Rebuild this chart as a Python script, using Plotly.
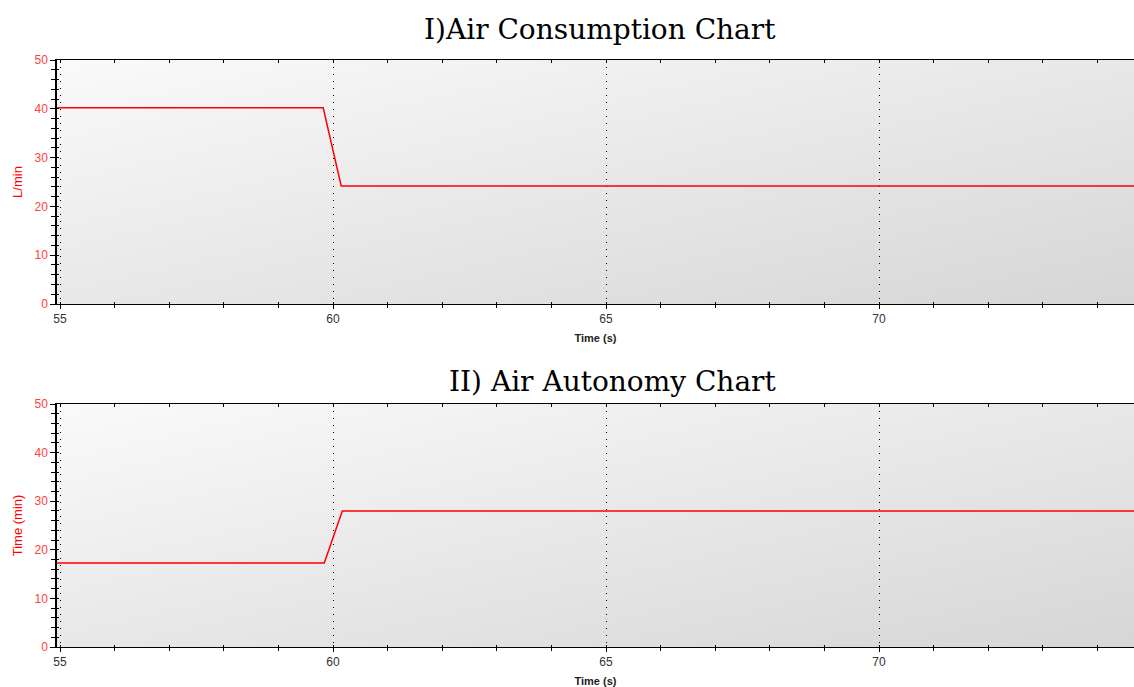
import base64
import plotly.graph_objects as go

# ---- data ----
cons_time = [54.95, 59.82, 60.15, 74.7]
cons_lpm = [40.2, 40.2, 24.2, 24.2]
auto_time = [54.95, 59.84, 60.17, 74.7]
auto_min = [17.3, 17.3, 28.0, 28.0]
x_ticks = [55, 60, 65, 70]
y_ticks = [0, 10, 20, 30, 40, 50]
titles = ["I)Air Consumption Chart", "II) Air Autonomy Chart"]
y_titles = ["L/min", "Time (min)"]
x_title = "Time (s)"

W, H = 1134, 687
ML = 57
RED = "#ff0000"
TICKRED = "#ff4040"

svg = ('<svg xmlns="http://www.w3.org/2000/svg" width="400" height="100" preserveAspectRatio="none">'
       '<defs><linearGradient id="g" x1="0" y1="0" x2="1" y2="1">'
       '<stop offset="0" stop-color="#fafafa"/><stop offset="1" stop-color="#d6d6d6"/>'
       '</linearGradient></defs><rect width="400" height="100" fill="url(#g)"/></svg>')
bg_uri = "data:image/svg+xml;base64," + base64.b64encode(svg.encode()).decode()

fig = go.Figure()
fig.add_trace(go.Scatter(x=cons_time, y=cons_lpm, mode="lines",
                         line=dict(color=RED, width=1.5), xaxis="x", yaxis="y", showlegend=False,
                         hoverinfo="skip"))
fig.add_trace(go.Scatter(x=auto_time, y=auto_min, mode="lines",
                         line=dict(color=RED, width=1.5), xaxis="x2", yaxis="y2", showlegend=False,
                         hoverinfo="skip"))

xr = [54.945, 74.67]
yr = [0, 50]
yd_top = [(H - 304) / H, (H - 60) / H]
yd_bot = [(H - 647) / H, (H - 404) / H]

def xaxis(anchor):
    return dict(domain=[0, 1], range=xr, anchor=anchor, tickvals=x_ticks,
                ticks="outside", ticklen=4, tickcolor="black", tickwidth=1,
                minor=dict(dtick=1, tick0=55, ticks="outside", ticklen=3, tickcolor="black"),
                showline=True, linecolor="black", linewidth=1, mirror=True,
                showgrid=True, gridcolor="black", griddash="1px,6px", gridwidth=1,
                zeroline=False,
                tickfont=dict(family="Liberation Sans", size=12, color="#333333"),
                title=dict(text="<b>" + x_title + "</b>", standoff=8,
                           font=dict(family="Liberation Sans", size=11, color="#222222")))

def yaxis(domain, anchor, title):
    return dict(domain=domain, range=yr, anchor=anchor, tickvals=y_ticks,
                ticks="outside", ticklen=5, tickcolor="black", tickwidth=1,
                minor=dict(dtick=2, tick0=0, ticks="outside", ticklen=4, tickcolor="black"),
                showline=True, linecolor="black", linewidth=1.5,
                showgrid=False, zeroline=False,
                tickfont=dict(family="Liberation Sans", size=12, color=TICKRED),
                title=dict(text=title, standoff=9,
                           font=dict(family="Liberation Sans", size=13, color=RED)))

def x_inner(over, anchor, side, ln):
    return dict(overlaying=over, anchor=anchor, side=side, range=xr, dtick=1, tick0=55,
                ticks="inside", ticklen=ln, tickcolor="black", showticklabels=False,
                showline=False, showgrid=False, zeroline=False)

def y_inner(over, anchor):
    return dict(overlaying=over, anchor=anchor, side="left", range=yr, dtick=2, tick0=0,
                ticks="inside", ticklen=2, tickcolor="black", showticklabels=False,
                showline=False, showgrid=False, zeroline=False)

# empty traces to activate the inner-tick overlay axes
for xa, ya in [("x3", "y"), ("x4", "y"), ("x", "y3"), ("x5", "y2"), ("x6", "y2"), ("x2", "y4")]:
    fig.add_trace(go.Scatter(x=[], y=[], xaxis=xa, yaxis=ya, showlegend=False, hoverinfo="skip"))

fig.update_layout(
    width=W, height=H,
    margin=dict(l=ML, r=0, t=0, b=0, autoexpand=False),
    paper_bgcolor="white", plot_bgcolor="rgba(0,0,0,0)",
    xaxis=xaxis("y"), yaxis=yaxis(yd_top, "x", y_titles[0]),
    xaxis2=xaxis("y2"), yaxis2=yaxis(yd_bot, "x2", y_titles[1]),
    xaxis3=x_inner("x", "y", "bottom", 2), xaxis4=x_inner("x", "y", "top", 3),
    yaxis3=y_inner("y", "x"),
    xaxis5=x_inner("x2", "y2", "bottom", 2), xaxis6=x_inner("x2", "y2", "top", 3),
    yaxis4=y_inner("y2", "x2"),
    images=[
        dict(source=bg_uri, xref="x domain", yref="y domain", x=0, y=1, sizex=1, sizey=1,
             sizing="stretch", layer="below", xanchor="left", yanchor="top"),
        dict(source=bg_uri, xref="x2 domain", yref="y2 domain", x=0, y=1, sizex=1, sizey=1,
             sizing="stretch", layer="below", xanchor="left", yanchor="top"),
    ],
    annotations=[
        dict(text=titles[0], x=(600 - ML) / (W - ML), y=1 - 30 / H, xref="paper", yref="paper",
             showarrow=False, xanchor="center", yanchor="middle",
             font=dict(family="DejaVu Serif", size=28, color="black")),
        dict(text=titles[1], x=(612 - ML) / (W - ML), y=1 - 381 / H, xref="paper", yref="paper",
             showarrow=False, xanchor="center", yanchor="middle",
             font=dict(family="DejaVu Serif", size=28, color="black")),
    ],
)

fig.write_html("out.html", config={"displayModeBar": False},
               post_script="document.body.style.margin='0';")
